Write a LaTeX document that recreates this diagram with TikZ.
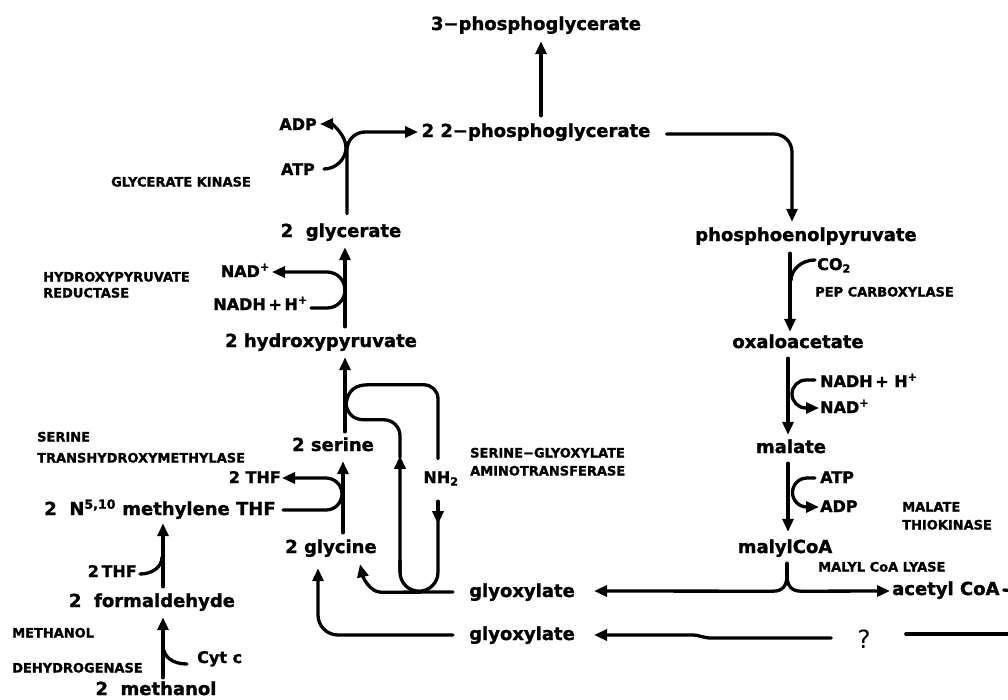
\documentclass[tikz,border=0pt]{standalone}
\usepackage{fontspec}
\setmainfont{DejaVu Sans}[BoldFeatures={FakeBold=1.3}]
\usetikzlibrary{arrows.meta,calc}
\begin{document}
\begin{tikzpicture}[x=1pt,y=-1pt,
  met/.style={font=\fontsize{18}{20}\selectfont\bfseries, inner sep=0pt, text height=12pt, text depth=2pt},
  cof/.style={font=\fontsize{16}{18}\selectfont\bfseries, inner sep=0pt, text height=12pt, text depth=2pt},
  lab/.style={font=\fontsize{13}{15}\selectfont\bfseries, inner sep=0pt, text height=9pt, text depth=0pt, anchor=west},
  ln/.style={line width=3.3pt, line cap=round, line join=round},
  arr/.style={ln, -{Triangle[length=13pt,width=11pt]}},
]
\useasboundingbox (0,0) rectangle (1008,699);
\clip (0,0) rectangle (1008,699);
% nodes
\node[met] (p3g) at (536,25) {3−phosphoglycerate};
\node[met] (p2g) at (536,132) {2 2−phosphoglycerate};
\node[cof,anchor=east] (ADPl) at (317,125) {ADP};
\node[cof,anchor=east] (ATPl) at (315,170) {ATP};
\node[lab,anchor=center] (gk) at (181,182) {GLYCERATE KINASE};
\node[met] (glyc) at (341,232) {2~~glycerate};
\node[cof,anchor=east] (NADl) at (270,272) {NAD\textsuperscript{+}};
\node[cof,anchor=east] (NADHl) at (308,305) {NADH\,+\,H\textsuperscript{+}};
\node[lab] (hr1) at (43,277) {HYDROXYPYRUVATE};
\node[lab] (hr2) at (43,293) {REDUCTASE};
\node[met] (hpyr) at (321,342) {2 hydroxypyruvate};
\node[met] (ser) at (333,446) {2 serine};
\node[lab] (st1) at (37,437) {SERINE};
\node[lab] (st2) at (37,458) {TRANSHYDROXYMETHYLASE};
\node[cof,anchor=east] (THF1) at (281,478) {2 THF};
\node[met] (methyl) at (160,510) {2~~N\textsuperscript{5,10} methylene THF};
\node[met] (glyn) at (331,548) {2 glycine};
\node[cof,anchor=east] (THF2) at (137,572) {2\,THF};
\node[met] (form) at (152,602) {2~~formaldehyde};
\node[lab] (md1) at (12,633) {METHANOL};
\node[lab] (md2) at (12,668) {DEHYDROGENASE};
\node[cof,anchor=west] (cyt) at (197,658) {Cyt c};
\node[met] (meoh) at (156,690) {2~~methanol};
\node[cof] (nh2) at (441,478) {NH\textsubscript{2}};
\node[lab] (sg1) at (470,453) {SERINE−GLYOXYLATE};
\node[lab] (sg2) at (470,471) {AMINOTRANSFERASE};
\node[met] (gly1) at (522,592) {glyoxylate};
\node[met] (gly2) at (522,635) {glyoxylate};
\node[met] (pep) at (806,236) {phosphoenolpyruvate};
\node[cof,anchor=west] (co2) at (817,265) {CO\textsubscript{2}};
\node[lab] (pc) at (815,292) {PEP CARBOXYLASE};
\node[met] (oaa) at (798,343) {oxaloacetate};
\node[cof,anchor=west] (nadhr) at (820,382) {NADH\,+\ H\textsuperscript{+}};
\node[cof,anchor=west] (nadr) at (820,408) {NAD\textsuperscript{+}};
\node[met] (mal) at (791,448) {malate};
\node[cof,anchor=west] (atpr) at (820,478) {ATP};
\node[cof,anchor=west] (adpr) at (820,507) {ADP};
\node[lab] (mt1) at (902,507) {MALATE};
\node[lab] (mt2) at (902,525) {THIOKINASE};
\node[met] (mcoa) at (785,548) {malylCoA};
\node[lab] (mcl) at (818,567) {MALYL CoA LYASE};
\node[met,anchor=west] (acoa) at (892,590) {acetyl CoA};
\node[font=\fontsize{25}{26}\selectfont, inner sep=0pt, text height=18pt, text depth=0pt] (q) at (864,639) {?};
% connectors
\draw[arr] ($(p2g.north)+(5,-9)$) -- ($(p3g.south)+(5,9)$);
\draw[arr, rounded corners=18pt] ($(glyc.north)+(6,-11)$) |- ($(ADPl.east)+(101,7)$);
\coordinate (k1) at ($(glyc.north)+(5,-77)$);
\draw[arr] ($(ATPl.east)+(9,-1)$) .. controls +(12,0) and +(0,11) .. (k1) .. controls +(0,-13) and +(12,0) .. ($(ADPl.east)+(3,-1)$);
\draw[arr] ($(hpyr.north)+(24,-8)$) -- ($(glyc.south)+(4,8)$);
\draw[arr] ($(NADHl.east)+(3,3)$) -- ++(16,0) arc(90:-90:18) -- ($(NADl.east)+(2,0)$);
\draw[arr] ($(ser.north)+(12,-7)$) -- ($(hpyr.south)+(24,8)$);
% serine-glyoxylate loops
\coordinate (j1) at ($(ser.north)+(13,-35)$);
\draw[ln] (j1) .. controls +(2,-14) and +(-12,0) .. ++(22,-19) -- ++(56,0) arc(-90:0:14) -- ($(nh2.north)+(-3,-12)$);
\draw[ln] ($(nh2.north)+(-41,-13)$) -- ++(0,-22) arc(0:-90:16) -- ++(-20,0) .. controls +(-12,0) and +(1,8) .. (j1);
\draw[arr] ($(gly1.west)+(-69,-20)$) -- ($(nh2.north)+(-41,-15)$);
\draw[ln] ($(nh2.south)+(-3,30)$) -- ++(0,57) arc(0:180:19) -- ++(0,-12);
\draw[arr] ($(nh2.south)+(-3,16)$) -- ($(nh2.south)+(-3,39)$);
\draw[arr] ($(gly1.west)+(-16,0)$) -- ($(glyn.south)+(50,37)$) .. controls +(-11,0) and +(3,13) .. ($(glyn.south)+(29,9)$);
\draw[arr, rounded corners=20pt] ($(gly2.west)+(-16,0)$) -| ($(glyn.south)+(-13,13)$);
\draw[arr] ($(glyn.north)+(12,-8)$) -- ($(ser.south)+(10,8)$);
\draw[arr] ($(THF1.east)+(2,32)$) -- ++(43,0) arc(90:-90:16) -- ($(THF1.east)+(1,0)$);
% left lower
\draw[arr] ($(form.north)+(11,-8)$) -- ($(methyl.south)+(3,6)$);
\draw[ln] ($(THF2.east)+(3,2)$) .. controls +(12,0) and +(0,10) .. ($(methyl.south)+(2,40)$);
\draw[arr] ($(meoh.north)+(7,-5)$) -- ($(form.south)+(11,8)$);
\draw[ln] ($(form.south)+(11,36)$) .. controls +(0,12) and +(-14,0) .. ($(cyt.west)+(-10,6)$);
% right column
\draw[arr, rounded corners=18pt] ($(p2g.east)+(16,2)$) -| ($(pep.north)+(-14,-7)$);
\draw[arr] ($(pep.south)+(-16,10)$) -- ($(oaa.north)+(-8,-4)$);
\draw[ln] ($(co2.west)+(-2,-5)$) .. controls +(-14,0) and +(0,-10) .. ($(pep.south)+(-15,37)$);
\draw[arr] ($(oaa.south)+(-10,8)$) -- ($(mal.north)+(-3,-6)$);
\draw[arr] ($(nadhr.west)+(-5,-2)$) -- ++(-9,0) arc(-90:-270:14) -- ($(nadr.west)+(-1,0)$);
\draw[arr] ($(mal.south)+(-3,8)$) -- ($(mcoa.north)+(3,-9)$);
\draw[arr] ($(atpr.west)+(-5,0)$) -- ++(-8,0) arc(-90:-270:14.5) -- ($(adpr.west)+(-1,0)$);
% malyl CoA lyase brace
\coordinate (br) at ($(mcoa.south)+(2,20)$);
\draw[ln] ($(mcoa.south)+(2,8)$) -- (br);
\draw[arr] (br) .. controls +(0,10) and +(10,0) .. ++(-14,16) -- ($(gly1.east)+(19,-1)$);
\draw[arr] (br) .. controls +(0,10) and +(-10,0) .. ++(14,16) -- ($(acoa.west)+(-2,1)$);
\draw[ln] ($(acoa.east)+(4,0)$) -- ++(25,2);
% bottom line
\draw[arr] ($(q.west)+(-26,-1)$) -- ++(-120,0) .. controls +(-8,0) and +(6,0) .. ++(-18,-3) -- ($(gly2.east)+(19,0)$);
\draw[ln] ($(q.east)+(35,-5)$) -- ++(120,0);
\end{tikzpicture}
\end{document}
